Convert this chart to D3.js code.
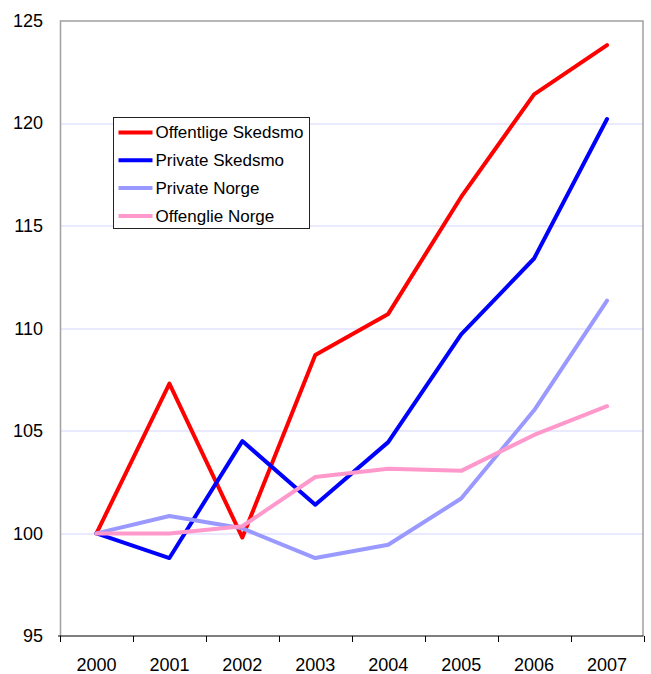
<!DOCTYPE html>
<html>
<head>
<meta charset="utf-8">
<script src="https://cdn.jsdelivr.net/npm/d3@7"></script>
<style>
  body { margin: 0; background: #fff; }
  svg { font-family: "Liberation Sans", Arial, sans-serif; }
  .line { fill: none; stroke-width: 4; stroke-linejoin: round; stroke-linecap: round; }
</style>
</head>
<body>
<svg width="651" height="674"></svg>
<script>
// Data
var years = ["2000", "2001", "2002", "2003", "2004", "2005", "2006", "2007"];
var yTicks = [95, 100, 105, 110, 115, 120, 125];

var offentligeSkedsmo = [100, 107.3, 99.8, 108.7, 110.7, 116.4, 121.4, 123.8];
var privateSkedsmo    = [100, 98.8, 104.5, 101.4, 104.45, 109.7, 113.4, 120.2];
var privateNorge      = [100, 100.85, 100.25, 98.8, 99.45, 101.7, 106.0, 111.35];
var offenglieNorge    = [100, 100.0, 100.35, 102.75, 103.15, 103.05, 104.8, 106.2];

var seriesNames  = ["Offentlige Skedsmo", "Private Skedsmo", "Private Norge", "Offenglie Norge"];
var seriesColors = ["#ff0000", "#0000ff", "#9999ff", "#ff99cc"];
var seriesValues = [offentligeSkedsmo, privateSkedsmo, privateNorge, offenglieNorge];

var svg = d3.select("svg"),
    margin = {top: 20.5, right: 7.5, bottom: 38, left: 60},
    width = +svg.attr("width") - margin.left - margin.right,
    height = +svg.attr("height") - margin.top - margin.bottom,
    g = svg.append("g").attr("transform", "translate(" + margin.left + "," + margin.top + ")");

var x = d3.scaleBand()
    .domain(years)
    .range([0, width]);

var y = d3.scaleLinear()
    .domain([95, 125])
    .range([height, 0]);

// Gridlines
g.selectAll(".grid")
    .data(yTicks.filter(function(d) { return d > 95 && d < 125; }))
  .enter().append("line")
    .attr("class", "grid")
    .attr("x1", 0)
    .attr("x2", width)
    .attr("y1", function(d) { return Math.round(y(d)) + 0.5; })
    .attr("y2", function(d) { return Math.round(y(d)) + 0.5; })
    .attr("stroke", "#d4d4ff")
    .attr("stroke-width", 1);

// Plot frame (left, top, right)
g.append("path")
    .attr("d", "M0.5," + height + "V0.5H" + (width - 0.5) + "V" + height)
    .attr("fill", "none")
    .attr("stroke", "#a0a0a0")
    .attr("stroke-width", 1.5);

// Y axis labels
g.selectAll(".ylabel")
    .data(yTicks)
  .enter().append("text")
    .attr("class", "ylabel")
    .attr("x", -17)
    .attr("y", function(d) { return y(d); })
    .attr("dy", "0.35em")
    .attr("text-anchor", "end")
    .attr("font-size", "18px")
    .attr("fill", "#000")
    .text(function(d) { return d; });

// X axis
var xAxis = g.append("g")
    .attr("transform", "translate(0," + height + ")");

xAxis.append("line")
    .attr("x1", -2)
    .attr("x2", width)
    .attr("stroke", "#000")
    .attr("stroke-width", 1.2);

xAxis.selectAll(".tick")
    .data(years.concat(["end"]))
  .enter().append("line")
    .attr("class", "tick")
    .attr("x1", function(d, i) { return Math.round(i * x.bandwidth()) + 0.5; })
    .attr("x2", function(d, i) { return Math.round(i * x.bandwidth()) + 0.5; })
    .attr("y1", 0)
    .attr("y2", 6)
    .attr("stroke", "#000");

xAxis.selectAll(".xlabel")
    .data(years)
  .enter().append("text")
    .attr("class", "xlabel")
    .attr("x", function(d) { return x(d) + x.bandwidth() / 2; })
    .attr("y", 35)
    .attr("text-anchor", "middle")
    .attr("font-size", "18px")
    .attr("fill", "#000")
    .text(function(d) { return d; });

// Lines
var line = d3.line()
    .x(function(d, i) { return x(years[i]) + x.bandwidth() / 2; })
    .y(function(d) { return y(d); });

seriesValues.forEach(function(vals, i) {
    g.append("path")
        .datum(vals)
        .attr("class", "line")
        .attr("stroke", seriesColors[i])
        .attr("d", line);
});

// Legend
var legend = svg.append("g")
    .attr("transform", "translate(113.5,117.5)");

legend.append("rect")
    .attr("width", 196)
    .attr("height", 111)
    .attr("fill", "#fff")
    .attr("stroke", "#222")
    .attr("stroke-width", 1);

seriesNames.forEach(function(name, i) {
    var ly = 15 + i * 27.8;
    legend.append("line")
        .attr("x1", 5)
        .attr("x2", 39)
        .attr("y1", ly)
        .attr("y2", ly)
        .attr("stroke", seriesColors[i])
        .attr("stroke-width", 4);
    legend.append("text")
        .attr("x", 42)
        .attr("y", ly)
        .attr("dy", "0.35em")
        .attr("font-size", "17px")
        .attr("fill", "#000")
        .text(name);
});
</script>
</body>
</html>
